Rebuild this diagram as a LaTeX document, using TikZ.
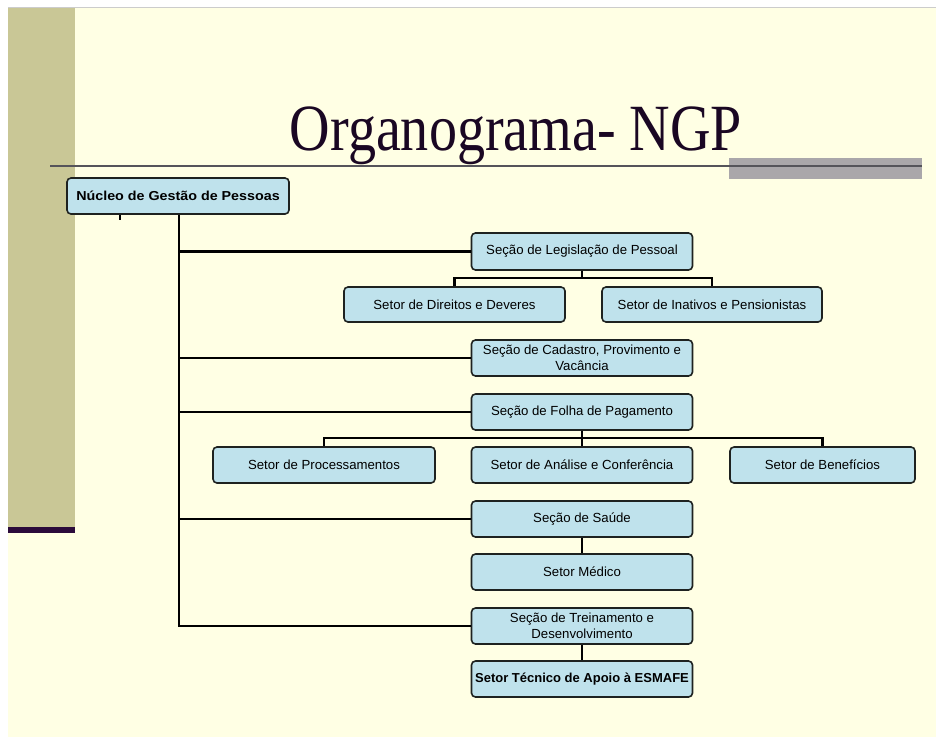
\documentclass[tikz,border=0pt]{standalone}
\usepackage{fontspec}
\setmainfont{Liberation Sans}
\newfontfamily\titlefont[FakeStretch=0.85]{Liberation Serif}
\newfontfamily\boxfont{Liberation Sans}
\definecolor{slidebg}{HTML}{FFFFE4}
\definecolor{olive}{HTML}{C9C796}
\definecolor{plum}{HTML}{2B0B3B}
\definecolor{boxfill}{HTML}{BFE2EC}
\definecolor{boxline}{HTML}{1E2220}
\definecolor{rulegray}{HTML}{55545A}
\definecolor{bargray}{HTML}{AAA7AA}
\begin{document}
\begin{tikzpicture}[x=1pt,y=-1pt,
  orgbox/.style={draw=boxline, line width=1.6pt, fill=boxfill, rounded corners=4pt,
    minimum width=221pt, minimum height=36pt, inner sep=1pt, align=center,
    font=\boxfont\fontsize{13.2}{16}\selectfont},
  boldbox/.style={orgbox, font=\boxfont\bfseries\fontsize{13}{16}\selectfont},
  link/.style={draw=black, line width=2.2pt}]
% slide background and decorations
\useasboundingbox (0,0) rectangle (936,737);
\fill[white] (0,0) rectangle (936,737);
\fill[slidebg] (8,8) rectangle (936,737);
\draw[gray!40, line width=1pt] (8,7.5) -- (936,7.5);
\fill[olive] (8,8) rectangle (75,527);
\fill[plum] (8,527) rectangle (75,533);
\fill[bargray] (729,158) rectangle (922,179);
\draw[rulegray, line width=1.6pt] (50,166) -- (922,166);
\node[anchor=base, inner sep=0pt, font=\titlefont\fontsize{66}{70}\selectfont, text=plum!60!black] (title) at (516,150) {Organograma- NGP};

% boxes
\node[boldbox, minimum width=222pt] (root) at (178,196) {\scalebox{1.1}[1]{Núcleo de Gestão de Pessoas}};
\node[orgbox, minimum height=37pt] (leg) at (582,251.5) {Seção de Legislação de Pessoal};
\node[orgbox, minimum height=35pt] (dir) at (454.5,304.5) {Setor de Direitos e Deveres};
\node[orgbox, minimum height=35pt, minimum width=220pt] (ina) at (712,304.5) {Setor de Inativos e Pensionistas};
\node[orgbox] (cad) at (582,358) {Seção de Cadastro, Provimento e\\Vacância};
\node[orgbox] (fol) at (582,412) {Seção de Folha de Pagamento};
\node[orgbox, minimum width=222pt] (pro) at (324,465) {Setor de Processamentos};
\node[orgbox] (ana) at (582,465) {Setor de Análise e Conferência};
\node[orgbox, minimum width=185pt] (ben) at (822.5,465) {Setor de Benefícios};
\node[orgbox] (sau) at (582,519) {Seção de Saúde};
\node[orgbox] (med) at (582,572) {Setor Médico};
\node[orgbox] (tre) at (582,626) {Seção de Treinamento e\\Desenvolvimento};
\node[boldbox] (tec) at (582,679) {Setor Técnico de Apoio à ESMAFE};

% trunk and branches
\coordinate (trunk) at ([xshift=1pt]root.south);
\coordinate (stub) at ([xshift=-58pt]root.south);
\draw[link] (trunk) |- (tre.west);
\draw[link] (trunk |- leg.west) -- (leg.west);
\draw[link] (trunk |- cad.west) -- (cad.west);
\draw[link] (trunk |- fol.west) -- (fol.west);
\draw[link] (trunk |- sau.west) -- (sau.west);
\draw[black, line width=2.2pt] (stub) -- ++(0,5);

% sub-levels
\draw[link] (leg.south) -- ++(0,7) -| (dir.north);
\draw[link] (leg.south) -- ++(0,7) -| (ina.north);
\draw[link] (fol.south) -- ++(0,7) -| (pro.north);
\draw[link] (fol.south) -- (ana.north);
\draw[link] (fol.south) -- ++(0,7) -| (ben.north);
\draw[link] (sau.south) -- (med.north);
\draw[link] (tre.south) -- (tec.north);
\end{tikzpicture}
\end{document}
